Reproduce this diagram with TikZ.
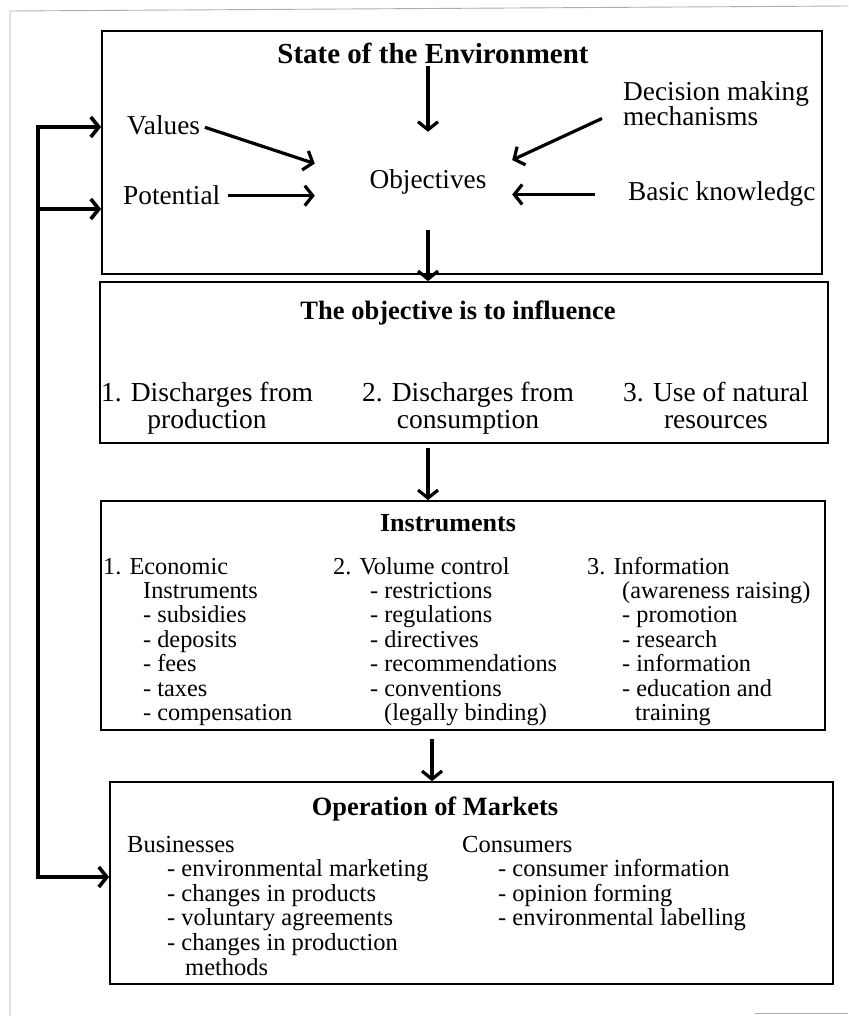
\documentclass[tikz,border=0pt]{standalone}
\usepackage{fontspec}
\setmainfont{Liberation Serif}
\usetikzlibrary{arrows.meta,calc}
\begin{document}
\begin{tikzpicture}[x=1pt,y=-1pt,
  box/.style={draw, line width=1.8pt, rectangle, inner sep=0pt},
  arr/.style={line width=3.2pt, line join=miter, -{Straight Barb[length=8pt,width=20pt]}},
  frame/.style={draw=gray!65, line width=0.9pt},
  t1/.style={inner sep=0pt, font=\fontsize{27.3}{24}\selectfont},
  t2/.style={inner sep=0pt, font=\fontsize{27.5}{27}\selectfont, align=center},
  t3/.style={inner sep=0pt, font=\fontsize{24.3}{24.4}\selectfont, align=left},
  hd/.style={inner sep=0pt, font=\bfseries\fontsize{26.5}{27}\selectfont}
]
\useasboundingbox (0,0) rectangle (848,1016);
% outer frame fragments
\draw[frame] (10,1016) -- (10,11) -- (848,6);
\draw[frame] (755,1013) -- (848,1013);

% boxes
\node[box, minimum width=720pt, minimum height=243pt] (b1) at (462,152.5) {};
\node[box, minimum width=728pt, minimum height=161pt] (b2) at (464,362.5) {};
\node[box, minimum width=724pt, minimum height=229pt] (b3) at (463,615.5) {};
\node[box, minimum width=723pt, minimum height=202pt] (b4) at (471.5,883) {};

% box 1 (multi-line nodes: base anchor = baseline of last line)
\node[hd, font=\bfseries\fontsize{29}{30}\selectfont, anchor=base] (soe) at (433,64) {State of the Environment};
\node[t1, anchor=base west] (val) at (127,135) {Values};
\node[t1, anchor=base west] (pot) at (123,205) {Potential};
\node[t1, anchor=base] (obj) at (428,189) {Objectives};
\node[t1, anchor=base west, align=left] (dec) at (623,126) {Decision making\\mechanisms};
\node[t1, anchor=base west] (bas) at (628,201) {Basic knowledgc};
\node[inner sep=0pt, minimum width=197pt, minimum height=98pt] (oz) at (413.5,181) {};

\draw[arr, shorten <=5pt] (val.east) -- (oz.170.8);
\draw[arr, shorten <=8pt] (pot.east) -- (pot.east -| oz.west);
\draw[arr] ([xshift=-21pt,yshift=8pt]dec.south west) -- (oz.12.3);
\draw[arr, shorten <=33pt] (bas.west) -- (bas.west -| oz.east);
\draw[arr, shorten <=2pt] (soe.south -| obj) -- (obj |- oz.north);
\draw[arr] (oz.south -| obj) -- (obj |- b2.north);

% box 2
\node[hd, anchor=base] (infl) at (458,319) {The objective is to influence};
\node[t2, anchor=base] (i1) at (207,428) {1. Discharges from\\production};
\node[t2, anchor=base] (i2) at (468,428) {2. Discharges from\\consumption};
\node[t2, anchor=base] (i3) at (716,428) {3. Use of natural\\resources};
\draw[arr, shorten <=4pt] (b2.south -| obj) -- (obj |- b3.north);

% box 3
\node[hd, font=\bfseries\fontsize{26}{27}\selectfont, anchor=base] (instr) at (448,531) {Instruments};
\node[t3, anchor=base west] (c1) at (103,720.4) {1. Economic\\
\hspace*{40pt}Instruments\\
\hspace*{40pt}- subsidies\\
\hspace*{40pt}- deposits\\
\hspace*{40pt}- fees\\
\hspace*{40pt}- taxes\\
\hspace*{40pt}- compensation};
\node[t3, anchor=base west] (c2) at (333,720.4) {2. Volume control\\
\hspace*{37pt}- restrictions\\
\hspace*{37pt}- regulations\\
\hspace*{37pt}- directives\\
\hspace*{37pt}- recommendations\\
\hspace*{37pt}- conventions\\
\hspace*{51pt}(legally binding)};
\node[t3, anchor=base west] (c3) at (587,720.4) {3. Information\\
\hspace*{35pt}(awareness raising)\\
\hspace*{35pt}- promotion\\
\hspace*{35pt}- research\\
\hspace*{35pt}- information\\
\hspace*{35pt}- education and\\
\hspace*{48pt}training};
\draw[arr, shorten <=8pt] ([xshift=4pt]b3.south -| obj) -- ([xshift=4pt]obj |- b4.north);

% box 4
\node[hd, font=\bfseries\fontsize{26.4}{27}\selectfont, anchor=base] (mkt) at (435,815) {Operation of Markets};
\node[t3, font=\fontsize{24.5}{24.6}\selectfont, anchor=base west] (bus) at (127,975) {Businesses\\
\hspace*{40pt}- environmental marketing\\
\hspace*{40pt}- changes in products\\
\hspace*{40pt}- voluntary agreements\\
\hspace*{40pt}- changes in production\\
\hspace*{58pt}methods};
\node[t3, font=\fontsize{24.5}{24.6}\selectfont, anchor=base west] (con) at (462,925.8) {Consumers\\
\hspace*{36pt}- consumer information\\
\hspace*{36pt}- opinion forming\\
\hspace*{36pt}- environmental labelling};

% feedback loop
\coordinate (f1) at (38,127);
\coordinate (f2) at (38,209);
\coordinate (f3) at (38,877);
\draw[arr, line width=3.6pt] (f3) -- (f1) -- (f1 -| b1.west);
\draw[arr, line width=3.6pt] (f2) -- (f2 -| b1.west);
\draw[arr, line width=3.6pt] (f2) -- (f3) -- (f3 -| b4.west);
\end{tikzpicture}
\end{document}
